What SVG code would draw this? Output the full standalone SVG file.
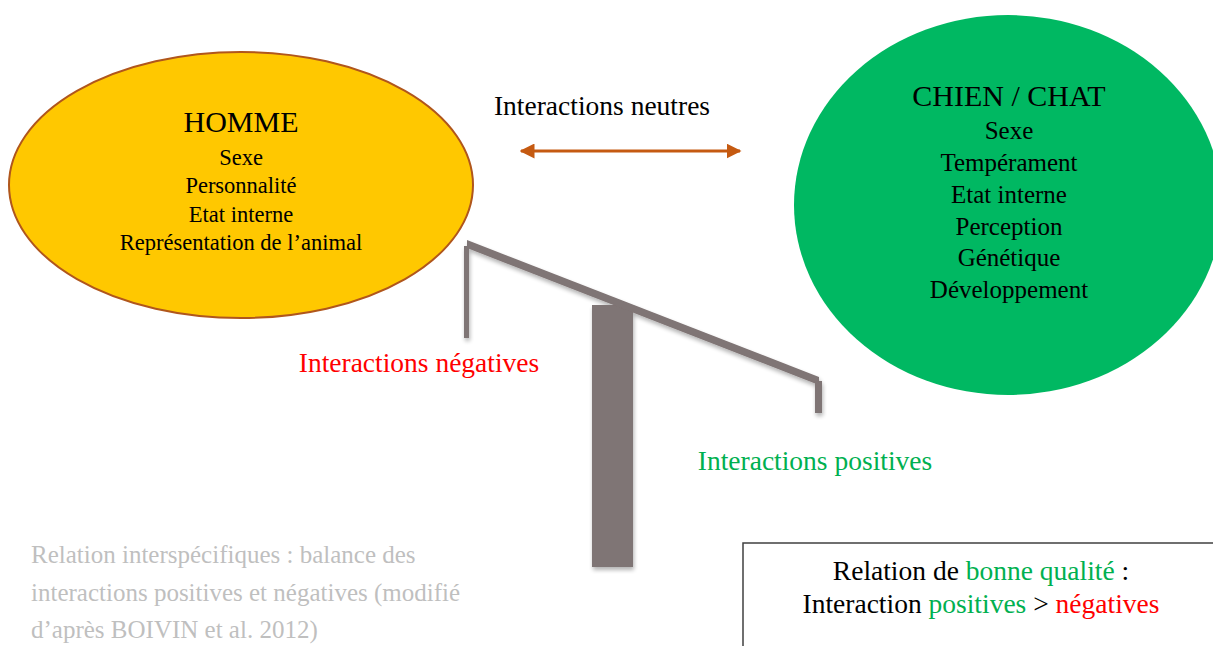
<svg xmlns="http://www.w3.org/2000/svg" width="1213" height="646" viewBox="0 0 1213 646">
<style>
text{font-family:"Liberation Serif","Times New Roman",serif;text-anchor:middle;fill:#000}
.t{font-size:30px}
.i{font-size:22.5px}
.j{font-size:25px}
.lab{font-size:27.5px}
.cap{font-size:25px;fill:#BFBFBF;text-anchor:start}
.red{fill:#FF0000}
.grn{fill:#00B050}
.bal{fill:#7F7474}
</style>
<defs>
<marker id="ah" viewBox="0 0 10 10" refX="9" refY="5" markerWidth="5" markerHeight="5" orient="auto-start-reverse">
<path d="M0,0 L10,5 L0,10 Z" fill="#C55A11"/>
</marker>
<filter id="sh" x="-10%" y="-10%" width="120%" height="130%">
<feGaussianBlur in="SourceAlpha" stdDeviation="2"/>
<feOffset dx="1" dy="3" result="b"/>
<feComponentTransfer><feFuncA type="linear" slope="0.3"/></feComponentTransfer>
<feMerge><feMergeNode/><feMergeNode in="SourceGraphic"/></feMerge>
</filter>
</defs>
<rect width="1213" height="646" fill="#fff"/>
<g id="homme">
<ellipse cx="241" cy="185" rx="232" ry="133" fill="#FFC800" stroke="#B0561C" stroke-width="2"/>
<text class="t" x="241" y="132">HOMME</text>
<text class="i" x="241" y="165">Sexe</text>
<text class="i" x="241" y="193">Personnalité</text>
<text class="i" x="241" y="222">Etat  interne</text>
<text class="i" x="241" y="250">Représentation de l’animal</text>
</g>
<g id="chien-chat">
<ellipse cx="1008" cy="205" rx="214" ry="190" fill="#00B862"/>
<text class="t" x="1009" y="106">CHIEN / CHAT</text>
<text class="j" x="1009" y="139">Sexe</text>
<text class="j" x="1009" y="171">Tempérament</text>
<text class="j" x="1009" y="203">Etat interne</text>
<text class="j" x="1009" y="235">Perception</text>
<text class="j" x="1009" y="266">Génétique</text>
<text class="j" x="1009" y="298">Développement</text>
</g>
<g id="balance" filter="url(#sh)">
<rect class="bal" x="592" y="305" width="41" height="262"/>
<polygon class="bal" points="467,240 819,377 819,385 467,248"/>
<rect class="bal" x="464" y="246" width="5" height="92"/>
<rect class="bal" x="815" y="381" width="7" height="32"/>
</g>
<g id="labels">
<text class="lab" x="602" y="115">Interactions  neutres</text>
<text class="lab red" x="419" y="372">Interactions négatives</text>
<text class="lab grn" x="815" y="470">Interactions positives</text>
</g>
<g id="caption">
<text class="cap" x="31" y="563">Relation interspécifiques : balance des</text>
<text class="cap" x="31" y="601">interactions positives et négatives (modifié</text>
<text class="cap" x="31" y="638">d’après BOIVIN et al. 2012)</text>
</g>
<g id="box">
<rect x="743" y="543" width="480" height="120" fill="#fff" stroke="#404040" stroke-width="1.5"/>
<text class="lab" x="981" y="580">Relation de <tspan class="grn">bonne qualité</tspan> :</text>
<text class="lab" x="981" y="613">Interaction <tspan class="grn">positives</tspan> &gt; <tspan class="red">négatives</tspan></text>
</g>
<g id="connectors">
<line x1="521" y1="151" x2="740" y2="151" stroke="#C55A11" stroke-width="3" marker-start="url(#ah)" marker-end="url(#ah)"/>
</g>
</svg>
